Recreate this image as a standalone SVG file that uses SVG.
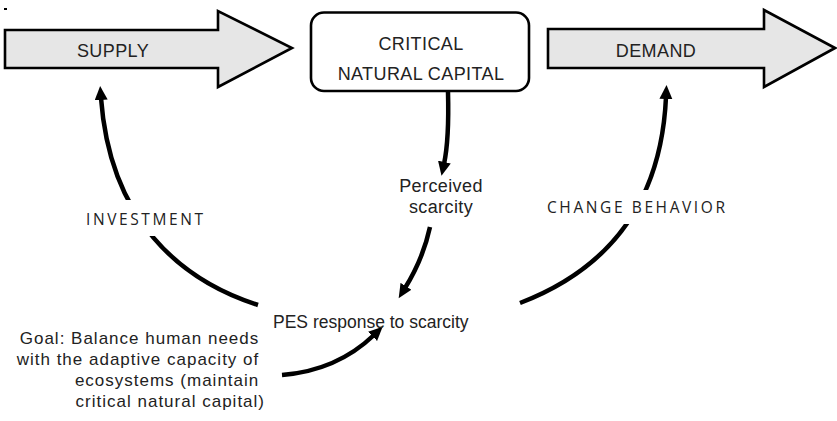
<svg xmlns="http://www.w3.org/2000/svg" width="837" height="421" viewBox="0 0 837 421">
<style>
.big{fill:#e6e6e6;stroke:#000;stroke-width:2.6;stroke-linejoin:miter}
.lbl{font-family:"Liberation Sans",Arial,sans-serif;font-size:18px;fill:#222;letter-spacing:0.4px}
.sp{font-family:"Open Sans","Liberation Sans",sans-serif;font-size:15.5px;fill:#222;letter-spacing:2.6px}
.con{fill:none;stroke:#000;stroke-width:4.5;stroke-linecap:butt}
</style>
<defs>
<marker id="ah" markerUnits="userSpaceOnUse" markerWidth="16" markerHeight="14" refX="2" refY="6.5" orient="auto">
<path d="M0,0 L14,6.5 L0,13 Z" fill="#000"/>
</marker>
</defs>
<rect x="4" y="8" width="3" height="2" fill="#000"/>
<g id="supply">
<path class="big" d="M5,30 L218,30 L218,11 L292,48 L218,87 L218,68 L5,68 Z"/>
<text class="lbl" x="113" y="57" text-anchor="middle">SUPPLY</text>
</g>
<g id="capital">
<rect x="311" y="12.5" width="218" height="78.5" rx="13" fill="#fff" stroke="#000" stroke-width="2.6"/>
<text class="lbl" x="421" y="50" text-anchor="middle">CRITICAL</text>
<text class="lbl" x="421" y="80" text-anchor="middle">NATURAL CAPITAL</text>
</g>
<g id="demand">
<path class="big" d="M548,29 L764,29 L764,10 L835,48 L764,87 L764,68 L548,68 Z"/>
<text class="lbl" x="656" y="57" text-anchor="middle">DEMAND</text>
</g>
<g id="connectors">
<path class="con" d="M258,305 C180,280 110,220 101,98" marker-end="url(#ah)"/>
<path class="con" d="M520,303 C580,280 660,230 666,97" marker-end="url(#ah)"/>
<path class="con" d="M448,92 C449,130 447,150 444,164" marker-end="url(#ah)"/>
<path class="con" d="M430,227 C425,250 415,272 405,288" marker-end="url(#ah)"/>
<path class="con" d="M282,375 C320,372 350,358 374,335" marker-end="url(#ah)"/>
</g>
<g id="investment">
<rect x="82" y="200" width="130" height="36" fill="#fff"/>
<text class="sp" x="86" y="225">INVESTMENT</text>
</g>
<g id="change-behavior">
<rect x="543" y="190" width="192" height="34" fill="#fff"/>
<text class="sp" x="547" y="213">CHANGE BEHAVIOR</text>
</g>
<g id="perceived">
<text class="lbl" x="441" y="192" text-anchor="middle">Perceived</text>
<text class="lbl" x="441" y="213" text-anchor="middle">scarcity</text>
</g>
<g id="pes">
<text class="lbl" x="273" y="328" style="font-size:17.5px;letter-spacing:0px">PES response to scarcity</text>
</g>
<g id="goal">
<text class="lbl" text-anchor="end" style="font-size:17px;letter-spacing:1px">
<tspan x="265" y="344">Goal: Balance human needs</tspan>
<tspan x="265" y="365">with the adaptive capacity of</tspan>
<tspan x="265" y="386">ecosystems (maintain</tspan>
<tspan x="265" y="407">critical natural capital)</tspan>
</text>
</g>
</svg>
